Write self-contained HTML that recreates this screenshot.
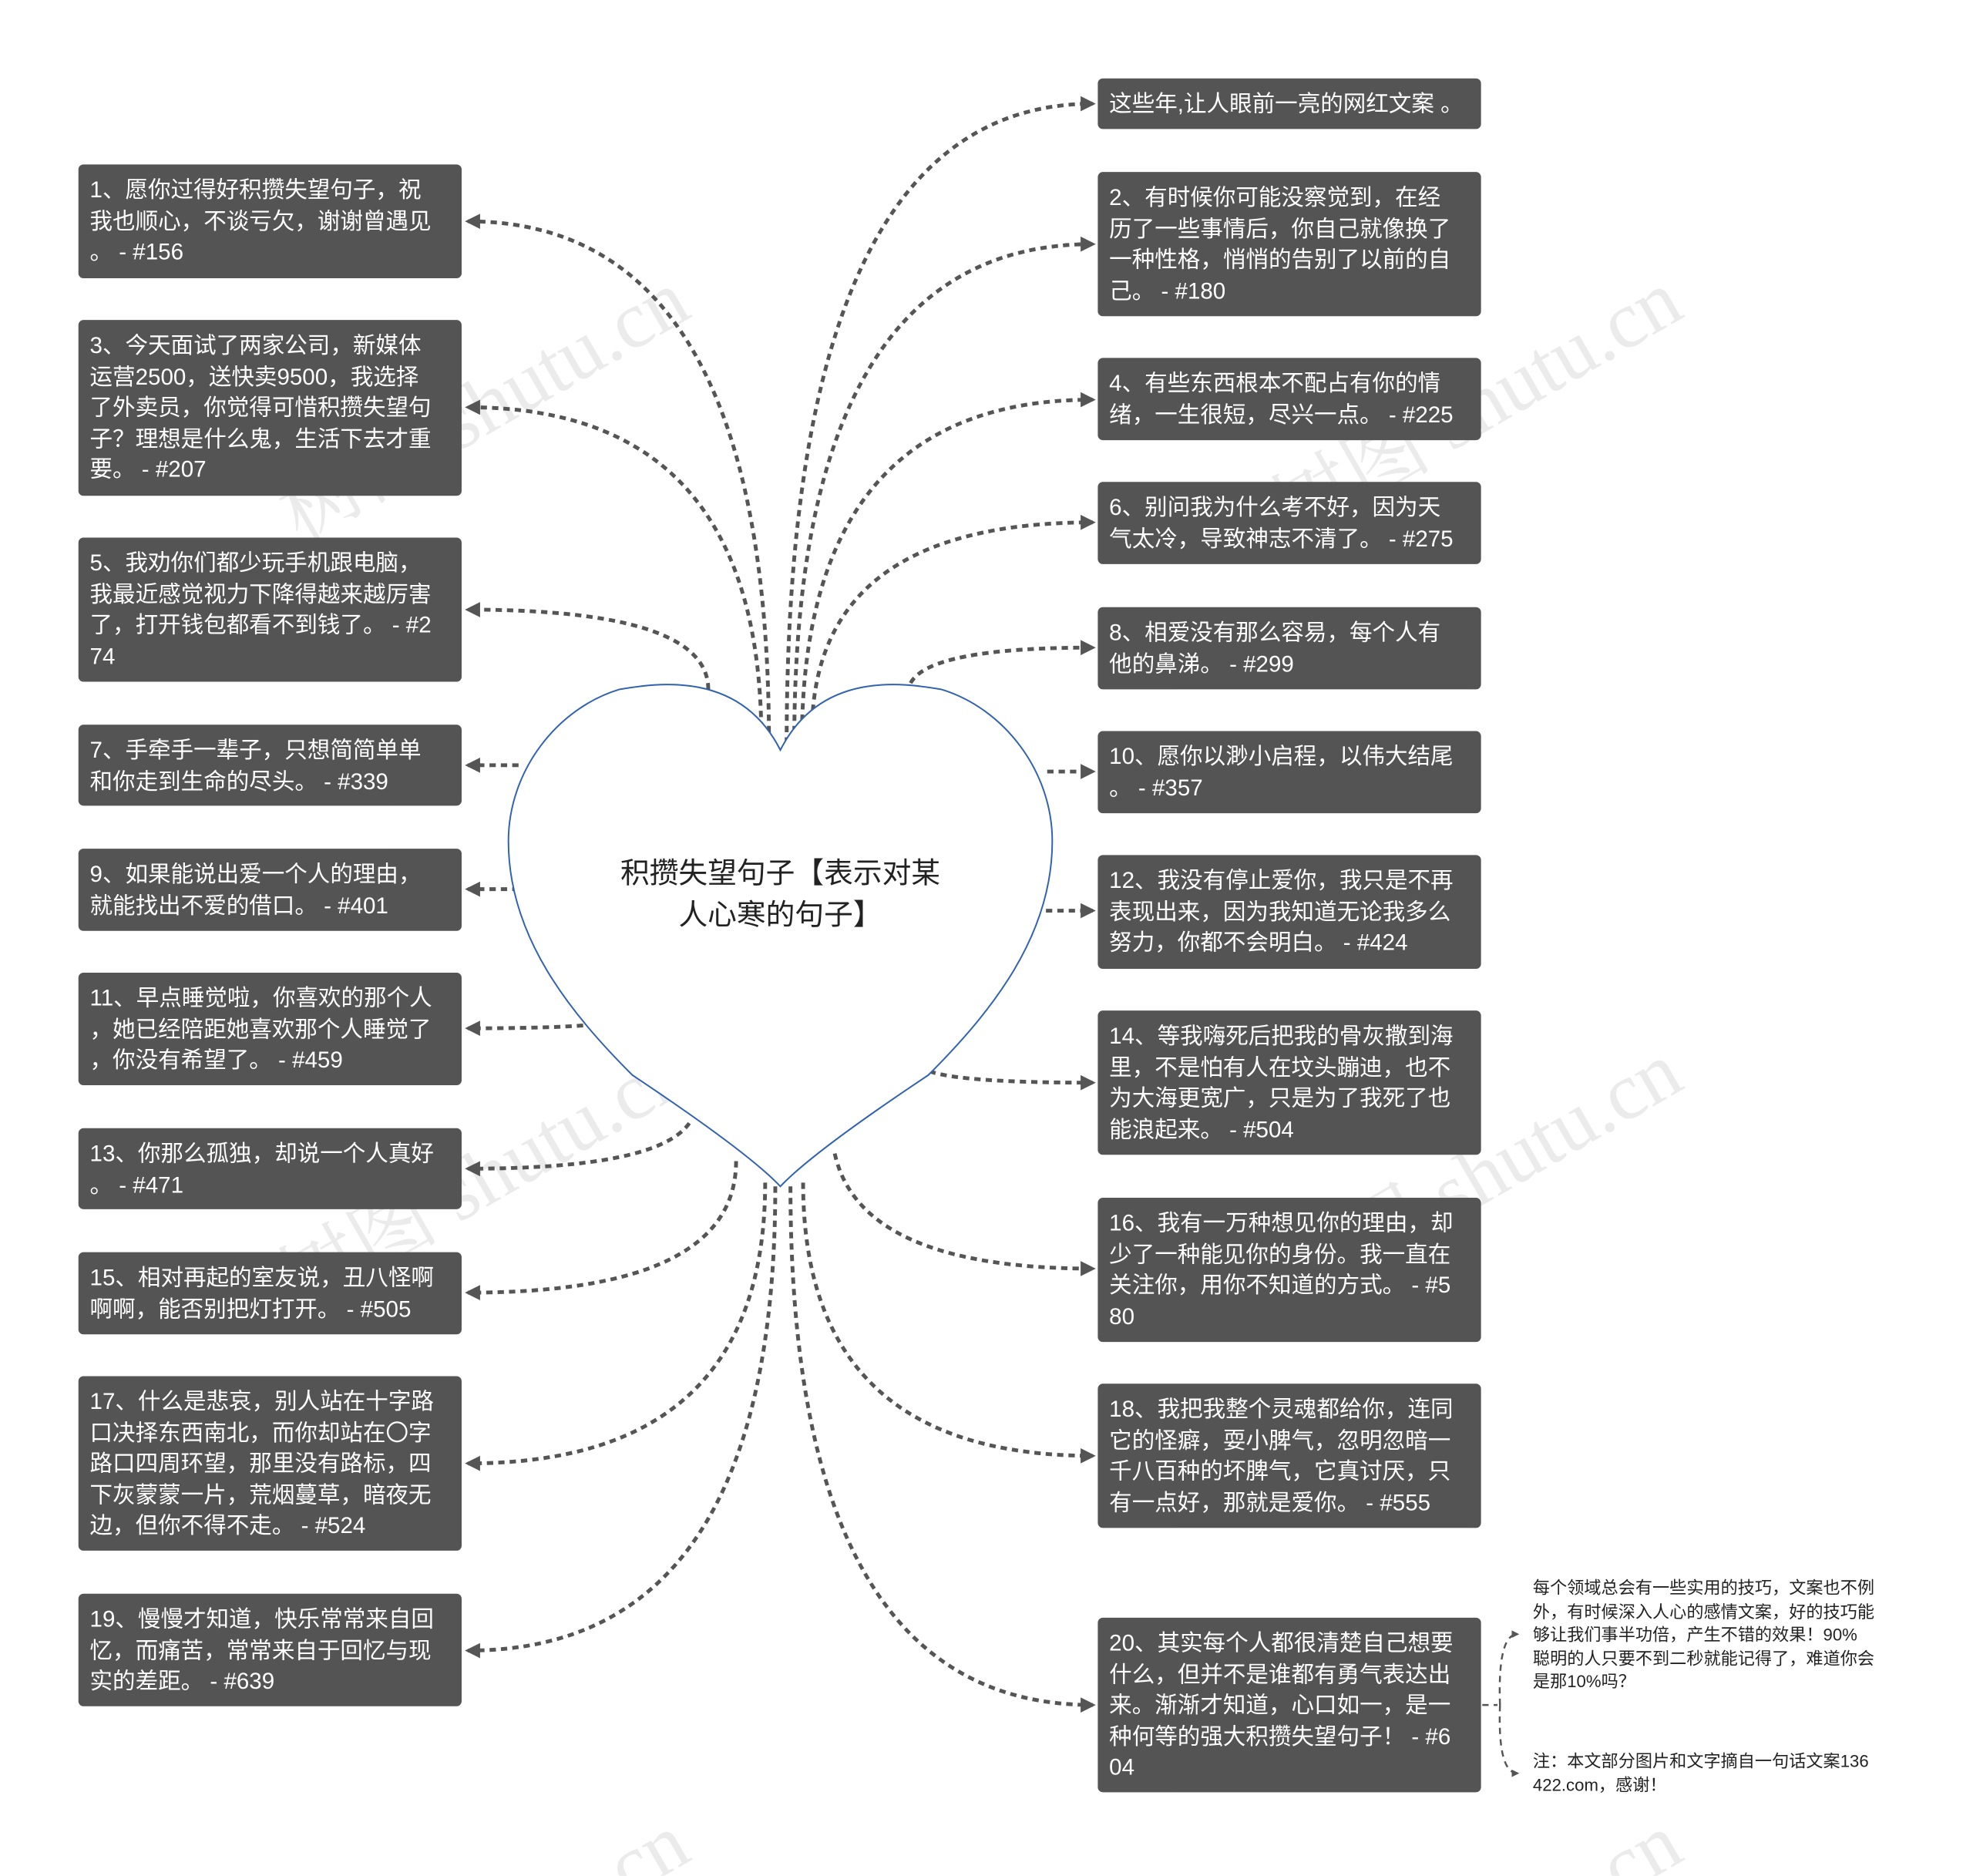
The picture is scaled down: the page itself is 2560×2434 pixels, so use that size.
<!DOCTYPE html>
<html><head><meta charset="utf-8"><style>
html,body{margin:0;padding:0;background:#fff;}
body{width:2560px;height:2433px;overflow:hidden;position:relative;}
#c{position:absolute;left:0;top:0;width:1560px;height:1483px;overflow:hidden;transform:scale(1.64103);transform-origin:0 0;font-family:"Liberation Sans","Noto Sans CJK SC",sans-serif;}
.b{position:absolute;width:303px;background:#545454;border-radius:4px;color:#fff;font-size:18px;line-height:24.5px;padding:8px 0 0 9px;box-sizing:border-box;white-space:nowrap;}
.l{left:62px}.r{left:868px}
.n{position:absolute;left:1212px;font-size:13.5px;line-height:18.5px;color:#222;white-space:nowrap;}
.wm{position:absolute;font-size:64px;color:rgba(210,210,210,0.45);transform:rotate(-30deg);white-space:nowrap;font-family:"Liberation Serif","Noto Serif CJK SC",serif;}
svg{position:absolute;left:0;top:0;}
</style></head><body><div id="c">
<div class="wm" style="left:200px;top:270px">树图 shutu.cn</div>
<div class="wm" style="left:985px;top:270px">树图 shutu.cn</div>
<div class="wm" style="left:200px;top:880px">树图 shutu.cn</div>
<div class="wm" style="left:985px;top:880px">树图 shutu.cn</div>
<div class="wm" style="left:200px;top:1490px">树图 shutu.cn</div>
<div class="wm" style="left:985px;top:1490px">树图 shutu.cn</div>
<svg width="1560" height="1483" viewBox="0 0 1560 1483">
<defs><marker id="a" viewBox="0 0 10 10" refX="8" refY="5" markerWidth="4" markerHeight="4" orient="auto"><path d="M0,0L10,5L0,10z" fill="#555"/></marker></defs>
<g fill="none" stroke="#555" stroke-width="3" stroke-dasharray="5,4" marker-end="url(#a)">
<path d="M608,588 Q608,175 370,175"/>
<path d="M602,585 Q602,322 370,322"/>
<path d="M560,545 Q560,482 370,482"/>
<path d="M410,605 L370,605"/>
<path d="M410,703 L370,703"/>
<path d="M470,810 Q440,813 370,813"/>
<path d="M545,888 Q520,924 370,924"/>
<path d="M582,918 Q582,1022 370,1022"/>
<path d="M605,935 Q605,1157 370,1157"/>
<path d="M613,938 Q613,1305 370,1305"/>
<path d="M622,588 Q622,82 864,82"/>
<path d="M628,588 Q628,193 864,193"/>
<path d="M634,588 Q634,316 864,316"/>
<path d="M642,580 Q642,413 864,413"/>
<path d="M720,540 Q735,512 864,512"/>
<path d="M828,610 L864,610"/>
<path d="M818,720 L864,720"/>
<path d="M735,847 Q760,856 864,856"/>
<path d="M660,912 Q680,1003 864,1003"/>
<path d="M635,935 Q635,1151 864,1151"/>
<path d="M625,938 Q625,1348 864,1348"/>
</g>
<g fill="none" stroke="#555" stroke-width="1.5" stroke-dasharray="5,4">
<path d="M1172,1348 L1184,1348"/>
<path d="M1186,1348 Q1184,1292 1200,1292" marker-end="url(#a)"/>
<path d="M1186,1348 Q1184,1402 1200,1402" marker-end="url(#a)"/>
</g>
<path d="M617,593 C585,530 520,540 490,545 C440,560 402,610 402,665 C402,740 450,800 500,850 C560,890 600,920 617,938 C634,920 674,890 734,850 C784,800 832,740 832,665 C832,610 794,560 744,545 C714,540 649,530 617,593 Z" fill="#fff" stroke="#2f62b0" stroke-width="1.2"/>
<text x="617" y="698" text-anchor="middle" font-size="23" fill="#222" font-family="Liberation Sans, Noto Sans CJK SC, sans-serif">积攒失望句子【表示对某</text>
<text x="617" y="731" text-anchor="middle" font-size="23" fill="#222" font-family="Liberation Sans, Noto Sans CJK SC, sans-serif">人心寒的句子】</text>
</svg>
<div class="b l" style="top:130px;height:90px">1、愿你过得好积攒失望句子，祝<br>我也顺心，不谈亏欠，谢谢曾遇见<br>。 - #156</div>
<div class="b l" style="top:253px;height:139px">3、今天面试了两家公司，新媒体<br>运营2500，送快卖9500，我选择<br>了外卖员，你觉得可惜积攒失望句<br>子？理想是什么鬼，生活下去才重<br>要。 - #207</div>
<div class="b l" style="top:425px;height:114px">5、我劝你们都少玩手机跟电脑，<br>我最近感觉视力下降得越来越厉害<br>了，打开钱包都看不到钱了。 - #2<br>74</div>
<div class="b l" style="top:573px;height:64px">7、手牵手一辈子，只想简简单单<br>和你走到生命的尽头。 - #339</div>
<div class="b l" style="top:671px;height:65px">9、如果能说出爱一个人的理由，<br>就能找出不爱的借口。 - #401</div>
<div class="b l" style="top:769px;height:89px">11、早点睡觉啦，你喜欢的那个人<br>，她已经陪距她喜欢那个人睡觉了<br>，你没有希望了。 - #459</div>
<div class="b l" style="top:892px;height:64px">13、你那么孤独，却说一个人真好<br>。 - #471</div>
<div class="b l" style="top:990px;height:65px">15、相对再起的室友说，丑八怪啊<br>啊啊，能否别把灯打开。 - #505</div>
<div class="b l" style="top:1088px;height:138px">17、什么是悲哀，别人站在十字路<br>口决择东西南北，而你却站在〇字<br>路口四周环望，那里没有路标，四<br>下灰蒙蒙一片，荒烟蔓草，暗夜无<br>边，但你不得不走。 - #524</div>
<div class="b l" style="top:1260px;height:89px">19、慢慢才知道，快乐常常来自回<br>忆，而痛苦，常常来自于回忆与现<br>实的差距。 - #639</div>
<div class="b r" style="top:62px;height:40px">这些年,让人眼前一亮的网红文案 。</div>
<div class="b r" style="top:136px;height:114px">2、有时候你可能没察觉到，在经<br>历了一些事情后，你自己就像换了<br>一种性格，悄悄的告别了以前的自<br>己。 - #180</div>
<div class="b r" style="top:283px;height:65px">4、有些东西根本不配占有你的情<br>绪，一生很短，尽兴一点。 - #225</div>
<div class="b r" style="top:381px;height:65px">6、别问我为什么考不好，因为天<br>气太冷，导致神志不清了。 - #275</div>
<div class="b r" style="top:480px;height:65px">8、相爱没有那么容易，每个人有<br>他的鼻涕。 - #299</div>
<div class="b r" style="top:578px;height:65px">10、愿你以渺小启程，以伟大结尾<br>。 - #357</div>
<div class="b r" style="top:676px;height:90px">12、我没有停止爱你，我只是不再<br>表现出来，因为我知道无论我多么<br>努力，你都不会明白。 - #424</div>
<div class="b r" style="top:799px;height:114px">14、等我嗨死后把我的骨灰撒到海<br>里，不是怕有人在坟头蹦迪，也不<br>为大海更宽广，只是为了我死了也<br>能浪起来。 - #504</div>
<div class="b r" style="top:947px;height:114px">16、我有一万种想见你的理由，却<br>少了一种能见你的身份。我一直在<br>关注你，用你不知道的方式。 - #5<br>80</div>
<div class="b r" style="top:1094px;height:114px">18、我把我整个灵魂都给你，连同<br>它的怪癖，耍小脾气，忽明忽暗一<br>千八百种的坏脾气，它真讨厌，只<br>有一点好，那就是爱你。 - #555</div>
<div class="b r" style="top:1279px;height:138px">20、其实每个人都很清楚自己想要<br>什么，但并不是谁都有勇气表达出<br>来。渐渐才知道，心口如一，是一<br>种何等的强大积攒失望句子！ - #6<br>04</div>
<div class="n" style="top:1247px">每个领域总会有一些实用的技巧，文案也不例<br>外，有时候深入人心的感情文案，好的技巧能<br>够让我们事半功倍，产生不错的效果！90%<br>聪明的人只要不到二秒就能记得了，难道你会<br>是那10%吗？</div>
<div class="n" style="top:1384px">注：本文部分图片和文字摘自一句话文案136<br>422.com，感谢！</div>
</div></body></html>
